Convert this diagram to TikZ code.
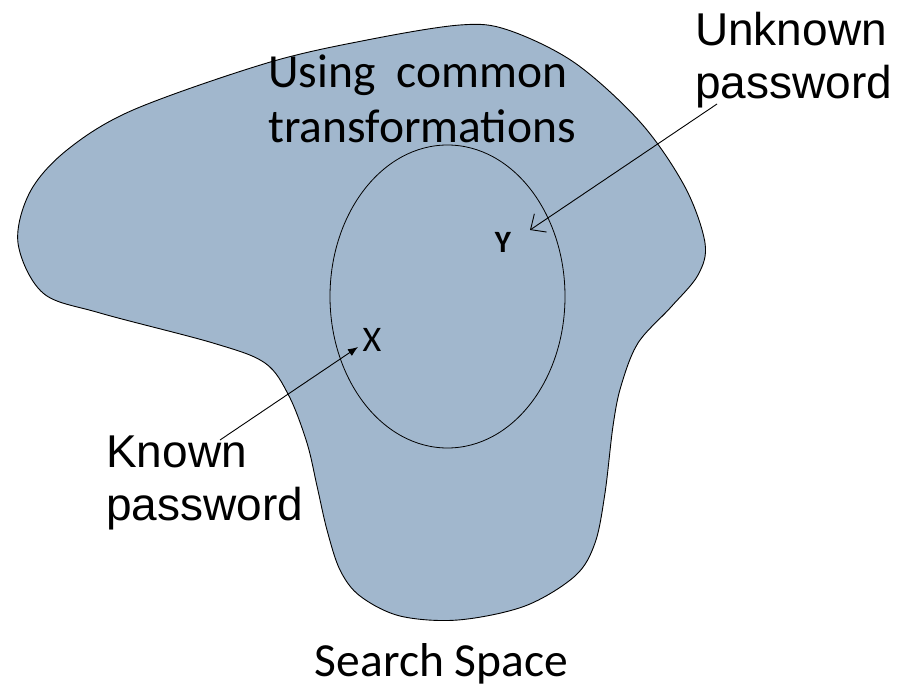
\documentclass[tikz,border=0pt]{standalone}
\usepackage{fontspec}
\setmainfont{Carlito}
\newfontfamily\arialfont{Liberation Sans}
\usetikzlibrary{arrows.meta}
\definecolor{spacefill}{RGB}{161,183,205}

\begin{document}
\begin{tikzpicture}[x=1pt,y=-1pt,
  txt/.style={inner sep=0pt,font=\fontsize{47.5}{55}\selectfont,align=left},
  arial/.style={inner sep=0pt,font=\arialfont\fontsize{46}{53}\selectfont,align=left},
  pw/.style={inner sep=0pt},
  edge/.style={line width=0.9pt}]
\useasboundingbox (0,0) rectangle (918,688);
\draw[edge,fill=spacefill] plot[smooth cycle,tension=0.55] coordinates {
  (18,243) (30,192) (67,150) (133,110) (267,63) (367,40) (460,25) (508,30)
  (575,63) (641,123) (685,187) (705,243) (698,275) (671,307) (638,343)
  (621,386) (613,426) (605,493) (595,543) (575,576) (525,606) (458,620)
  (400,616) (360,596) (340,570) (327,530) (317,486) (307,443) (289,396)
  (265,363) (213,343) (100,313) (43,293)};
\draw[line width=0.8pt] (447.5,296.5) ellipse [x radius=117.5, y radius=151.5];

\node[txt,anchor=base west] (tr) at (268,142) {Using\ \ common\\transformations};
\node[arial,anchor=base west] (up) at (695,98) {Unknown\\password};
\node[arial,anchor=base west] (kp) at (106,520) {Known\\password};
\node[txt,anchor=base] (ss) at (441.5,676) {Search Space};
\node[pw,font=\bfseries\fontsize{31}{36}\selectfont] (y) at (503,242) {Y};
\node[pw,font=\fontsize{36}{42}\selectfont] (x) at (372,340) {X};

\coordinate (u0) at (717,104);
\coordinate (u1) at (530,230);
\coordinate (k0) at (220,440);
\coordinate (k1) at (358,347);
\draw[edge,-{Straight Barb[length=12pt,width=22pt]}] (u0) -- (u1);
\draw[edge,-{Latex[length=10pt,width=8pt]}] (k0) -- (k1);
\end{tikzpicture}
\end{document}
